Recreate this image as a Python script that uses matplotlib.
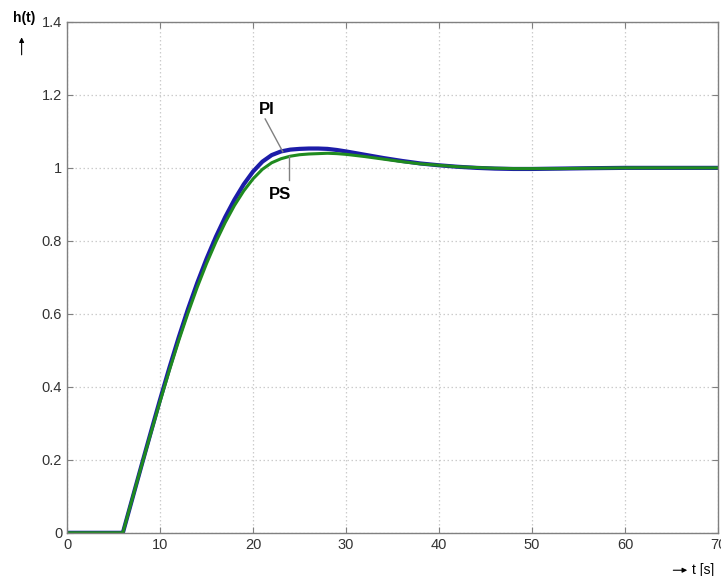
import matplotlib
matplotlib.use("Agg")
import matplotlib.pyplot as plt

plt.rcParams["font.family"] = ["Liberation Sans", "DejaVu Sans"]

# step responses
t_pi = [0, 6, 7, 8, 9, 10, 11, 12, 13, 14, 15, 16, 17, 18, 19, 20, 21, 22, 23, 24,
        25, 26, 27, 28, 29, 30, 32, 34, 36, 38, 40, 42, 44, 46, 48, 50, 53, 56, 60, 65, 70]
h_pi = [0, 0, 0.092, 0.184, 0.275, 0.365, 0.452, 0.535, 0.613, 0.685, 0.751, 0.811,
        0.865, 0.913, 0.955, 0.990, 1.017, 1.035, 1.045, 1.050, 1.052, 1.053, 1.053,
        1.052, 1.049, 1.045, 1.036, 1.027, 1.019, 1.012, 1.007, 1.003, 1.000, 0.998,
        0.997, 0.997, 0.998, 0.999, 1.0, 1.0, 1.0]

t_ps = t_pi
h_ps = [0, 0, 0.092, 0.183, 0.272, 0.360, 0.445, 0.526, 0.602, 0.673, 0.738, 0.797,
        0.850, 0.897, 0.937, 0.970, 0.996, 1.014, 1.025, 1.032, 1.036, 1.038, 1.039,
        1.040, 1.039, 1.037, 1.031, 1.024, 1.017, 1.011, 1.007, 1.003, 1.001, 0.999,
        0.998, 0.998, 0.998, 0.999, 1.0, 1.0, 1.0]

x_ticks = [0, 10, 20, 30, 40, 50, 60, 70]
y_ticks = [0, 0.2, 0.4, 0.6, 0.8, 1, 1.2, 1.4]
y_labels = ["0", "0.2", "0.4", "0.6", "0.8", "1", "1.2", "1.4"]

fig = plt.figure(figsize=(7.21, 5.76), dpi=100)
ax = fig.add_axes([0.093, 0.075, 0.903, 0.887])

ax.plot(t_pi, h_pi, color="#1c1ca8", linewidth=3.0)
ax.plot(t_ps, h_ps, color="#1f8a1f", linewidth=2.2)

ax.set_xlim(0, 70)
ax.set_ylim(0, 1.4)
ax.set_xticks(x_ticks)
ax.set_yticks(y_ticks)
ax.set_yticklabels(y_labels)
ax.grid(True, linestyle=(0, (1.2, 2)), color="#cccccc", linewidth=0.9)
ax.tick_params(direction="in", length=4, color="#808080", labelsize=10.5,
               labelcolor="#333333", top=True, right=True)
for s in ax.spines.values():
    s.set_color("#808080")
    s.set_linewidth(1.0)

# curve labels with leader lines
ax.plot([21.3, 23.2], [1.134, 1.044], color="#808080", linewidth=1.0)
ax.text(21.5, 1.159, "PI", fontsize=12, fontweight="bold", ha="center", va="center")
ax.plot([23.9, 23.9], [1.033, 0.967], color="#808080", linewidth=1.0)
ax.text(22.9, 0.926, "PS", fontsize=12, fontweight="bold", ha="center", va="center")

# axis labels with arrows, MATLAB style
fig.text(0.033, 0.968, "h(t)", fontsize=10, fontweight="bold", ha="center", va="center")
fig.add_artist(matplotlib.patches.FancyArrowPatch(
    (0.03, 0.9), (0.03, 0.94), transform=fig.transFigure,
    arrowstyle="-|>", mutation_scale=7, color="black", linewidth=0.8))
fig.add_artist(matplotlib.patches.FancyArrowPatch(
    (0.93, 0.01), (0.957, 0.01), transform=fig.transFigure,
    arrowstyle="-|>", mutation_scale=7, color="black", linewidth=0.8))
fig.text(0.96, 0.01, "t [s]", fontsize=10, ha="left", va="center")

fig.savefig("out.png", dpi=100, facecolor="white")
